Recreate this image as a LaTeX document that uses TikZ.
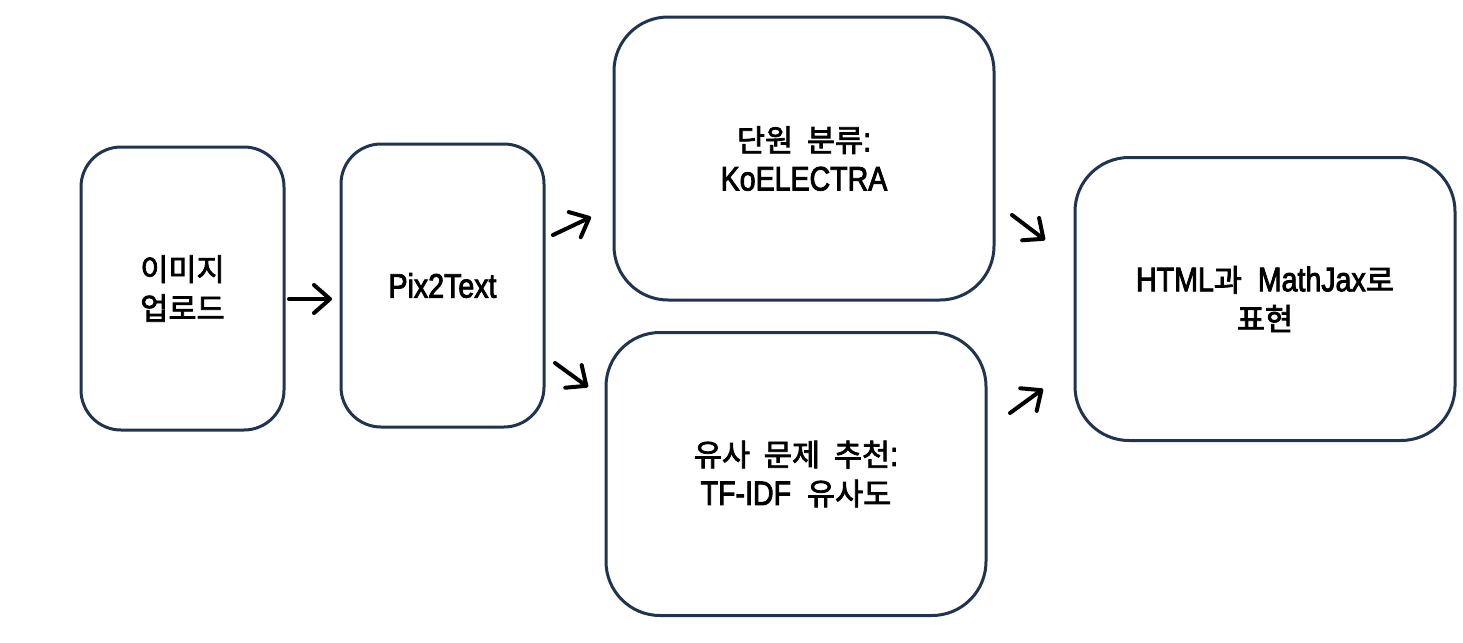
\documentclass[tikz,border=0pt]{standalone}
\usepackage{fontspec}
\setmainfont[FakeStretch=0.84, FakeBold=2.5]{Liberation Sans}
\newfontfamily\kor[Scale=0.9, FakeBold=2.5]{Noto Sans CJK KR}
\usetikzlibrary{arrows.meta}
\definecolor{boxline}{HTML}{1F3450}

\begin{document}
\begin{tikzpicture}[x=0.5pt, y=-0.5pt, line width=1.5pt,
  stage/.style={draw=boxline, rounded corners=20pt, align=center, inner sep=0pt,
    font=\fontsize{17}{19.5}\selectfont},
  narrow/.style={stage, minimum width=101.5pt, minimum height=141.5pt},
  wide/.style={stage, rounded corners=27pt, minimum width=190pt, minimum height=141.5pt},
  flow/.style={-{Straight Barb[length=8pt, width=14pt, round]}, line width=2pt, line cap=round, black}]
\useasboundingbox (0,0) rectangle (1463,643);

% stages
\node[narrow] (upload) at (182.5,288.5) {{\kor 이미지}\\{\kor 업로드}};
\node[narrow] (pix)    at (442.5,285.5) {Pix2Text};
\node[wide]   (unit)   at (804,158.5)   {{\kor 단원\ \ 분류}:\\KoELECTRA};
\node[wide]   (recom)  at (796,474)     {{\kor 유사\ \ 문제\ \ 추천}:\\TF-IDF\ \ {\kor 유사도}};
\node[wide]   (show)   at (1265,299)    {HTML{\kor 과}\ \ MathJax{\kor 로}\\{\kor 표현}};

% arrows between the stages
\coordinate (a1s) at (289,299);  \coordinate (a1e) at (332,299);
\coordinate (a2s) at (553,235);  \coordinate (a2e) at (591,217);
\coordinate (a3s) at (555,363);  \coordinate (a3e) at (588,387);
\coordinate (a4s) at (1012,215); \coordinate (a4e) at (1045,240);
\coordinate (a5s) at (1010,413); \coordinate (a5e) at (1043,389);
\draw[flow] (a1s) -- (a1e);
\draw[flow] (a2s) -- (a2e);
\draw[flow] (a3s) -- (a3e);
\draw[flow] (a4s) -- (a4e);
\draw[flow] (a5s) -- (a5e);
\end{tikzpicture}
\end{document}
